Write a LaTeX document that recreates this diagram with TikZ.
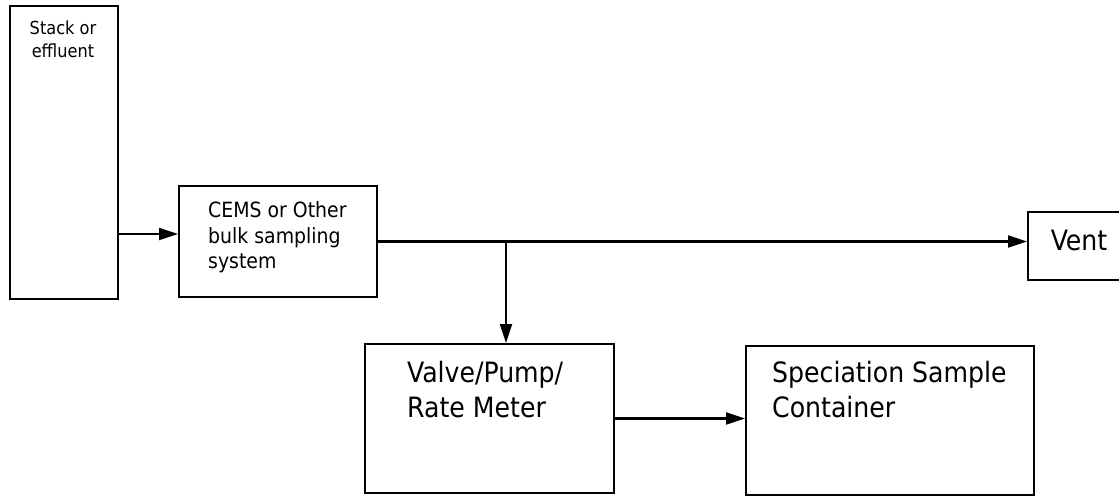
\documentclass[tikz,border=0pt]{standalone}
\usepackage{fontspec}
\setmainfont{DejaVu Sans Condensed}
\usepackage{tikz}
\usetikzlibrary{arrows.meta}

\begin{document}
\begin{tikzpicture}[x=1pt, y=-1pt,
    box/.style={draw, line width=2pt, inner sep=0pt, anchor=north west},
    flow/.style={line width=2.2pt, -{Triangle[length=19pt, width=12pt]}},
    txt/.style={inner sep=0pt, align=left}]
    \useasboundingbox (0,0) rectangle (1119,497);

    \node[box, minimum width=108pt, minimum height=293pt] (stack) at (9,5) {};
    \node[box, minimum width=198pt, minimum height=111pt] (cems) at (178,185) {};
    \node[box, minimum width=108pt, minimum height=68pt] (vent) at (1027,211) {};
    \node[box, minimum width=249pt, minimum height=149pt] (valve) at (364,343) {};
    \node[box, minimum width=288pt, minimum height=149pt] (spec) at (745,345) {};

    \node[txt, align=center, anchor=north, font=\fontsize{18}{23}\selectfont] (stacktext) at (63,20.5) {Stack or\\effluent};
    \node[txt, anchor=north west, font=\fontsize{21}{25.5}\selectfont] (cemstext) at (208,201.5) {CEMS or Other\\bulk sampling\\system};
    \node[txt, anchor=base, font=\fontsize{28}{35}\selectfont] (venttext) at (1079,251) {Vent};
    \node[txt, anchor=north west, font=\fontsize{28}{35}\selectfont] (valvetext) at (407,361.5) {Valve/Pump/\\Rate Meter};
    \node[txt, anchor=north west, font=\fontsize{28}{35}\selectfont] (spectext) at (772,361.5) {Speciation Sample\\Container};

    \coordinate (tee) at (506,241);
    \draw[flow] ([yshift=7.5pt]cems.west -| stack.east) -- ([yshift=7.5pt]cems.west);
    \draw[flow] (cems.east) -- (cems.east -| vent.west);
    \draw[flow] (tee) -- (tee |- valve.north);
    \draw[flow] (valve.east) -- (valve.east -| spec.west);

\end{tikzpicture}
\end{document}
